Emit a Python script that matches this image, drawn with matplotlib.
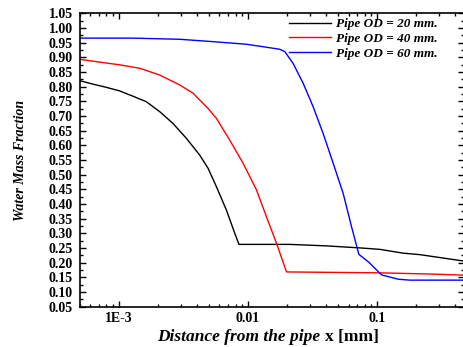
import matplotlib

matplotlib.use("Agg")
import matplotlib.pyplot as plt
from matplotlib.ticker import FixedLocator, FuncFormatter, LogLocator, MultipleLocator

# ---------------------------------------------------------------- data ---
x_20 = [4.95e-4, 6.29e-4, 7.99e-4, 1.01e-3, 1.28e-3, 1.63e-3, 2.07e-3, 2.62e-3,
        3.33e-3, 4.22e-3, 4.90e-3, 5.69e-3, 6.80e-3, 7.89e-3, 8.51e-3,
        0.021, 0.040, 0.0735, 0.105, 0.159, 0.214, 0.47]
y_20 = [0.821, 0.809, 0.798, 0.786, 0.768, 0.749, 0.715, 0.675,
        0.624, 0.567, 0.522, 0.459, 0.379, 0.300, 0.262,
        0.262, 0.257, 0.250, 0.245, 0.232, 0.227, 0.205]

x_40 = [4.95e-4, 7.09e-4, 1.01e-3, 1.45e-3, 2.07e-3, 2.96e-3, 3.75e-3, 4.90e-3,
        5.69e-3, 7.21e-3, 9.15e-3, 0.01162, 0.01389, 0.0166, 0.01985,
        0.101, 0.25, 0.47]
y_40 = [0.894, 0.884, 0.875, 0.863, 0.840, 0.806, 0.778, 0.726,
        0.692, 0.618, 0.539, 0.448, 0.356, 0.266, 0.168,
        0.165, 0.161, 0.157]

x_60 = [4.95e-4, 1.25e-3, 2.96e-3, 5.32e-3, 9.73e-3, 0.0176, 0.01925, 0.0223,
        0.0267, 0.0319, 0.0381, 0.0456, 0.0545, 0.0633, 0.0721, 0.0867,
        0.108, 0.146, 0.179, 0.47]
y_60 = [0.966, 0.966, 0.962, 0.954, 0.945, 0.928, 0.920, 0.880,
        0.812, 0.732, 0.641, 0.539, 0.436, 0.322, 0.228, 0.200,
        0.158, 0.143, 0.140, 0.140]

labels = ["Pipe OD = 20 mm.", "Pipe OD = 40 mm.", "Pipe OD = 60 mm."]
colors = ["black", "red", "blue"]
xticks = [1e-3, 1e-2, 1e-1]
xticklabels = ["1E-3", "0.01", "0.1"]

# ---------------------------------------------------------------- plot ---
SERIF = "Liberation Serif"
fig = plt.figure(figsize=(4.63, 3.47), dpi=100)
ax = fig.add_axes([0.1728, 0.1167, 0.8294, 0.8444])

for xs, ys, lab, c in zip([x_20, x_40, x_60], [y_20, y_40, y_60], labels, colors):
    ax.plot(xs, ys, color=c, lw=1.0, label=lab)

ax.set_xscale("log")
ax.set_xlim(5e-4, 0.47)
ax.set_ylim(0.05, 1.05)

ax.xaxis.set_major_locator(FixedLocator(xticks))
ax.xaxis.set_major_formatter(FuncFormatter(
    lambda v, p: dict(zip(xticks, xticklabels)).get(v, "")))
ax.xaxis.set_minor_locator(LogLocator(base=10, subs=range(2, 10)))
ax.xaxis.set_minor_formatter(FuncFormatter(lambda v, p: ""))
ax.yaxis.set_major_locator(MultipleLocator(0.05))
ax.yaxis.set_minor_locator(MultipleLocator(0.025))
ax.yaxis.set_major_formatter(FuncFormatter(lambda v, p: f"{v:.2f}"))

ax.tick_params(which="both", direction="in", top=True, right=True, width=1.0)
ax.tick_params(which="major", length=4)
ax.tick_params(which="minor", length=2.5)
for lab in ax.get_xticklabels() + ax.get_yticklabels():
    lab.set_fontfamily(SERIF)
    lab.set_fontweight("bold")
    lab.set_fontsize(10)
ax.tick_params(axis="x", pad=4)
ax.tick_params(axis="y", pad=5)
for s in ax.spines.values():
    s.set_linewidth(1.2)

ax.set_ylabel("Water Mass Fraction", family=SERIF, weight="bold",
              style="italic", fontsize=10)
ax.yaxis.set_label_coords(-0.138, 0.5)

t1 = ax.text(0.2005, -0.104, "Distance from the pipe ", transform=ax.transAxes,
             family=SERIF, weight="bold", style="italic", fontsize=12.5,
             ha="left", va="center")
ax.annotate("x [mm]", xy=(1, 0), xycoords=t1, va="bottom", ha="left",
            family=SERIF, weight="bold", fontsize=12.5)

ax.legend(loc="upper left", bbox_to_anchor=(0.53, 1.003), frameon=False,
          prop={"family": SERIF, "weight": "bold", "style": "italic",
                "size": 9.5},
          handlelength=3.2, handletextpad=0.4, labelspacing=0.2,
          borderaxespad=0)

fig.savefig("out.png", dpi=100)
